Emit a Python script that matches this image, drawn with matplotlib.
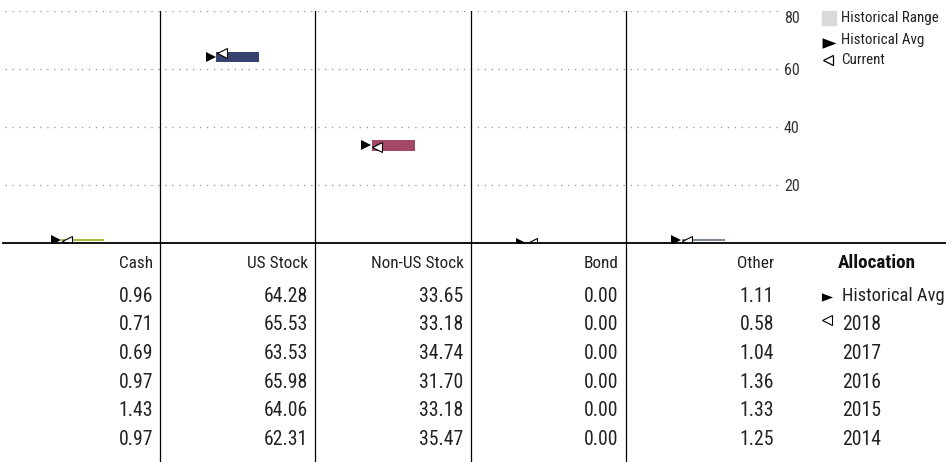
import matplotlib.pyplot as plt
import numpy as np
from matplotlib import font_manager
from matplotlib.lines import Line2D
from matplotlib.patches import Rectangle
from matplotlib.path import Path

categories = ['Cash', 'US Stock', 'Non-US Stock', 'Bond', 'Other']
colors = ['#A9BB3C', '#37426E', '#A34865', '#8A8F99', '#7D899B']

hist_avg = [0.96, 64.28, 33.65, 0.00, 1.11]
alloc_2018 = [0.71, 65.53, 33.18, 0.00, 0.58]
alloc_2017 = [0.69, 63.53, 34.74, 0.00, 1.04]
alloc_2016 = [0.97, 65.98, 31.70, 0.00, 1.36]
alloc_2015 = [1.43, 64.06, 33.18, 0.00, 1.33]
alloc_2014 = [0.97, 62.31, 35.47, 0.00, 1.25]
years = ['2018', '2017', '2016', '2015', '2014']
yticks = [20, 40, 60, 80]
legend_labels = ['Historical Range', 'Historical Avg', 'Current']

# narrowest face available
names = {f.name for f in font_manager.fontManager.ttflist}
narrow = next((n for n in ['Roboto Condensed', 'Liberation Sans Narrow',
                           'DejaVu Sans Condensed', 'Roboto', 'Liberation Sans']
               if n in names), 'DejaVu Sans')
plt.rcParams['font.family'] = [narrow, 'DejaVu Sans']

W, H = 946, 462
col_px = 155.2          # width of one asset column in pixels
x0 = 5                  # left edge of first column
base_px = 243           # y pixel of the zero line
fig = plt.figure(figsize=(W / 100, H / 100), dpi=100)
txt = '#222222'

# ---- range chart ----
ax = fig.add_axes([x0 / W, (H - base_px) / H, 5 * col_px / W, 232 / H])
ax.set_xlim(-0.5, 4.5)
ax.set_ylim(0, 80)
for s in ax.spines.values():
    s.set_visible(False)
ax.set_xticks([])
ax.yaxis.tick_right()
ax.set_yticks(yticks)
ax.tick_params(axis='y', length=0, pad=2, labelsize=11.5, labelcolor='#333333')
ax.yaxis.get_major_ticks()[-1].label2.set_va('top')
ax.grid(axis='y', color='#a0a0a0', linestyle=(0, (1, 4)), lw=1)
ax.set_axisbelow(True)

yearly = np.array([alloc_2018, alloc_2017, alloc_2016, alloc_2015, alloc_2014])
lo = yearly.min(axis=0)
hi = yearly.max(axis=0)
xs = np.arange(len(categories))
bar_w = 43 / col_px
half = 5.5 / col_px

ax.bar(xs, hi - lo, bottom=lo, width=bar_w, color=colors, zorder=2)
ax.plot(xs - bar_w / 2 - half, hist_avg, ls='none', marker='>', ms=7.9,
        color='black', mew=0, zorder=3)
ax.plot(xs - bar_w / 2 + half, alloc_2018, ls='none', marker='<', ms=7.2,
        mfc='white', mec='black', mew=0.8, zorder=4)
for b in xs[:-1] + 0.5:
    ax.axvline(b, color='black', lw=0.9, zorder=1)

# zero line across the whole width
fig.add_artist(Line2D([3 / W, 1], [(H - base_px) / H] * 2, color='black', lw=1.3))

# legend, drawn by hand in figure pixels
def fx(px):
    return px / W


def fy(py):
    return 1 - py / H


wide_tri = Path([(-1, -0.75), (1, 0), (-1, 0.75), (-1, -0.75)],
                [Path.MOVETO, Path.LINETO, Path.LINETO, Path.CLOSEPOLY])
fig.add_artist(Rectangle((fx(822), fy(25)), 14 / W, 14 / H, color='#d9d9d9',
                         transform=fig.transFigure))
fig.add_artist(Line2D([fx(829)], [fy(43)], marker=wide_tri, ms=10, color='black',
                      mew=0, ls='none', transform=fig.transFigure))
fig.add_artist(Line2D([fx(827.5)], [fy(60)], marker='<', ms=7.5, mfc='white',
                      mec='black', mew=0.9, ls='none', transform=fig.transFigure))
for lab, py in zip(legend_labels, [18, 40, 60]):
    fig.text(fx(841), fy(py), lab, ha='left', va='center', fontsize=10.8, color=txt)

# ---- table ----
top_row, bot_row = -0.847, 6.78
tax = fig.add_axes([x0 / W, 0, 1 - x0 / W, (H - base_px) / H])
tax.set_xlim(-0.5, -0.5 + (W - x0) / col_px)
tax.set_ylim(bot_row, top_row)
tax.axis('off')
tax.vlines(xs[:-1] + 0.5, top_row, bot_row, color='black', lw=0.9)

pad = 7 / col_px
for i, c in enumerate(categories):
    tax.text(i + 0.5 - pad, -0.15, c, ha='right', va='center', fontsize=12.4, color=txt)

rows = [hist_avg, alloc_2018, alloc_2017, alloc_2016, alloc_2015, alloc_2014]
for r, vals in enumerate(rows, start=1):
    for i, v in enumerate(vals):
        tax.text(i + 0.5 - pad, r, f'{v:.2f}', ha='right', va='center',
                 fontsize=14.2, color=txt)

lab_x = 4.5 + (842 - 781) / col_px
mk_x = 4.5 + (827 - 781) / col_px
tax.text(4.5 + (838 - 781) / col_px, -0.15, 'Allocation', ha='left', va='center',
         fontsize=13.8, fontweight='bold', color='#111111')
tax.text(lab_x, 1, 'Historical Avg', ha='left', va='center', fontsize=13.3, color=txt)
tax.plot([mk_x], [1.05], marker=wide_tri, ms=8, color='black', mew=0, clip_on=False)
for r, y in enumerate(years, start=2):
    tax.text(lab_x, r, y, ha='left', va='center', fontsize=14.2, color=txt)
tax.plot([mk_x], [1.85], marker='<', ms=6.5, mfc='white', mec='black', mew=0.8, clip_on=False)

fig.savefig('out.png', dpi=100)
